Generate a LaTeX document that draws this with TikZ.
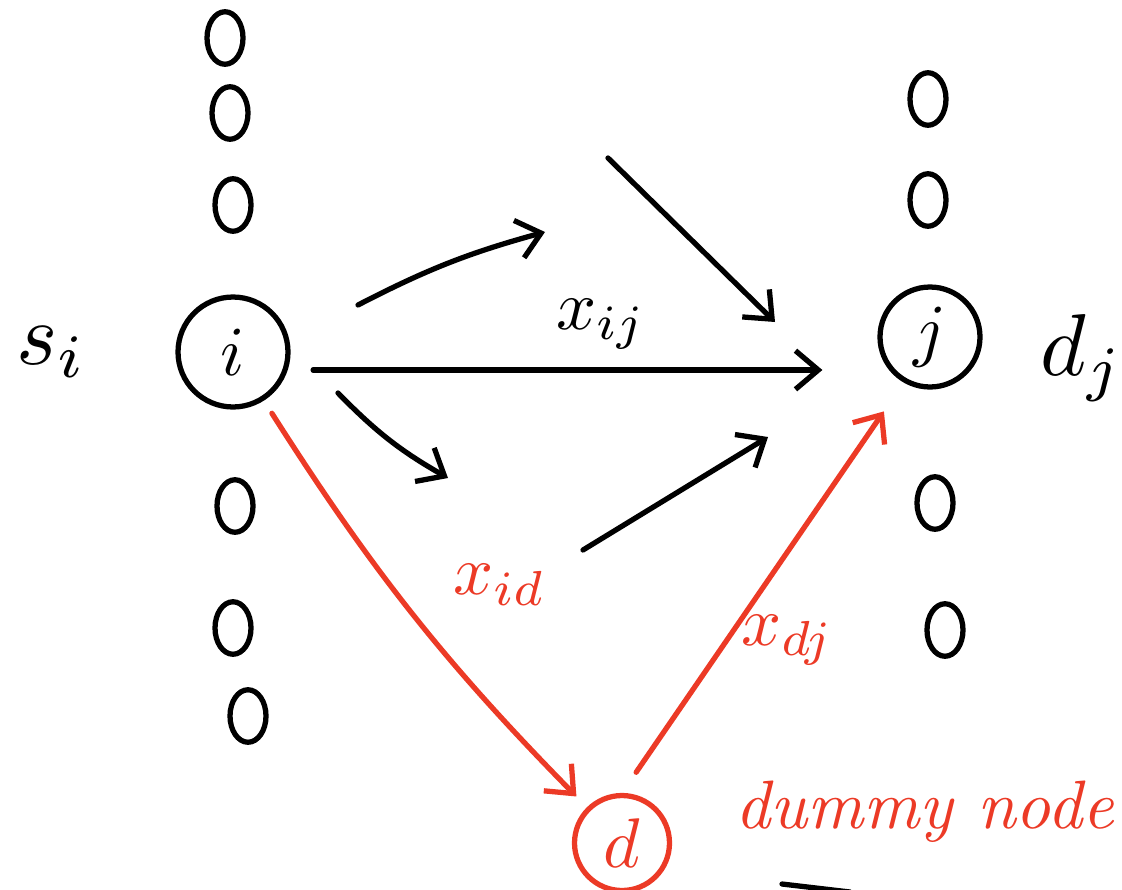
\documentclass[tikz,border=0pt]{standalone}
\usepackage{graphicx}
\usepackage{tikz}
\usetikzlibrary{arrows.meta,positioning,shapes.geometric}
\definecolor{penred}{RGB}{236,58,38}
\tikzset{
  bignode/.style={circle,draw,line width=3pt,minimum size=#1,inner sep=0pt},
  bignode/.default=2.1cm,
  smallnode/.style={ellipse,draw,line width=3pt,minimum width=0.72cm,
                    minimum height=1.05cm,inner sep=0pt},
  arr/.style={-{Straight Barb[length=13pt,width=22pt,line width=3pt]},line width=3pt,line cap=round},
  redarr/.style={arr,color=penred},
  lab/.style={scale=#1,inner sep=0pt},
  lab/.default=4,
}
\newcommand{\bigsym}[1]{\scalebox{4}{$#1$}}

\begin{document}
\begin{tikzpicture}[x=0.02cm,y=-0.02cm]
  \useasboundingbox (0,0) rectangle (1122,889);

  % --- main nodes ---
  \node[bignode=2.2cm] (i) at (233,352) {\bigsym{i}};
  \node[bignode=2.0cm] (j) at (930,337) {\bigsym{j}};
  \node[bignode=1.9cm,draw=penred,text=penred] (d) at (622,843) {\bigsym{d}};

  % --- other sources (left column) ---
  \node[smallnode] (l1) at (225,38) {};
  \node[smallnode] (l2) at (230,113) {};
  \node[smallnode] (l3) at (233,205) {};
  \node[smallnode] (l4) at (235,506) {};
  \node[smallnode] (l5) at (233,628) {};
  \node[smallnode] (l6) at (248,716) {};

  % --- other sinks (right column) ---
  \node[smallnode] (r1) at (928,99) {};
  \node[smallnode] (r2) at (928,200) {};
  \node[smallnode] (r3) at (935,503) {};
  \node[smallnode] (r4) at (945,630) {};

  % --- supply / demand ---
  \node[lab=5] (si) at (52,352) {$s_i$};
  \node[lab=5] (dj) at (1082,358) {$d_j$};

  % --- arcs ---
  \draw[arr,shorten <=0.45cm,shorten >=1.1cm]
    ([yshift=-0.36cm]i.east) -- ([yshift=-0.36cm]i.east -| j.west)
    node[lab,pos=0.53,above=0.2cm] (xij) {$x_{ij}$};

  \coordinate (o1s) at (358,305);
  \coordinate (o1e) at (545,232);
  \draw[arr] (o1s) to[bend left=6] (o1e);

  \coordinate (o2s) at (338,393);
  \coordinate (o2e) at (448,478);
  \draw[arr] (o2s) to[bend right=8] (o2e);

  \coordinate (n1s) at (608,158);
  \coordinate (n1e) at (775,322);
  \draw[arr] (n1s) -- (n1e);

  \coordinate (n2s) at (583,550);
  \coordinate (n2e) at (768,437);
  \draw[arr] (n2s) -- (n2e);

  % --- dummy node arcs ---
  \draw[redarr,shorten <=0.3cm,shorten >=0.3cm] (i) to[bend right=6] (d);
  \draw[redarr,shorten <=0.5cm,shorten >=0.7cm] (d.north) -- (j.240);
  \node[lab,text=penred] (xid) at (500,585) {$x_{id}$};
  \node[lab,text=penred] (xdj) at (788,640) {$x_{dj}$};
  \node[lab=3.9,text=penred,anchor=west] (dlabel) at (734,812) {\itshape dummy node};

  \coordinate (t1) at (782,884);
  \coordinate (t2) at (850,892);
  \draw[line width=3pt,line cap=round] (t1) -- (t2);
\end{tikzpicture}
\end{document}
